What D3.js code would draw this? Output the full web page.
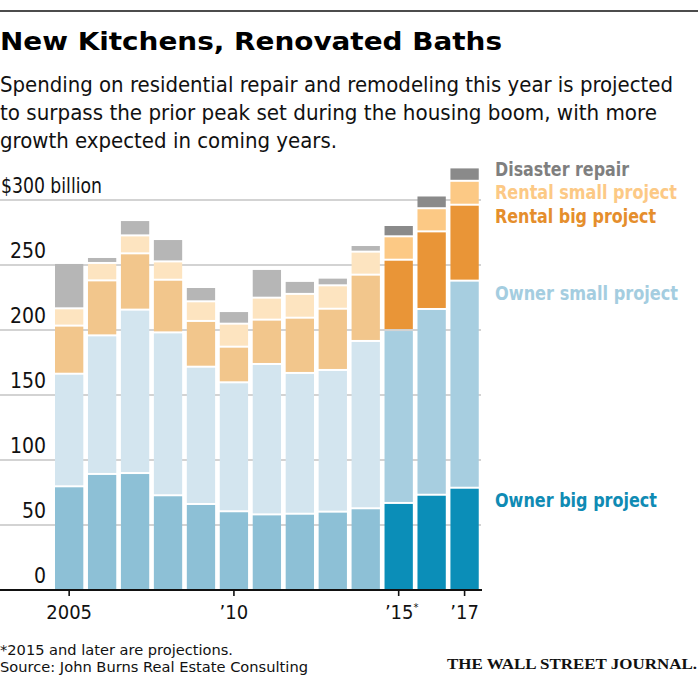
<!DOCTYPE html>
<html>
<head>
<meta charset="utf-8">
<script src="https://cdn.jsdelivr.net/npm/d3@7"></script>
<style>
  html, body { margin: 0; padding: 0; background: #fff; }
  svg { display: block; }
</style>
</head>
<body>
<svg id="chart" width="700" height="682"></svg>
<script>
// ---------------- DATA ----------------
const years = [2005, 2006, 2007, 2008, 2009, 2010, 2011, 2012, 2013, 2014, 2015, 2016, 2017];
const ownerBig    = [79.0, 88.5, 89.2, 72.1, 65.4, 59.8, 57.4, 57.9, 59.5, 62.1, 66.2, 72.5, 77.9];
const ownerSmall  = [86.6, 106.6, 125.7, 125.3, 105.6, 99.2, 115.7, 108.3, 109.0, 128.7, 133.0, 142.9, 159.3];
const rentalBig   = [37.0, 42.3, 43.3, 40.5, 35.2, 27.4, 34.1, 42.5, 47.1, 51.0, 54.1, 59.7, 58.4];
const rentalSmall = [13.3, 13.4, 13.8, 14.1, 15.1, 17.7, 16.9, 18.3, 18.0, 17.7, 18.0, 17.8, 18.4];
const disaster    = [34.9, 4.6, 11.8, 17.2, 11.0, 9.7, 22.1, 10.0, 5.9, 5.1, 8.7, 9.8, 10.3];
const seriesKeys  = ["ownerBig", "ownerSmall", "rentalBig", "rentalSmall", "disaster"];
const seriesNames = ["Owner big project", "Owner small project", "Rental big project", "Rental small project", "Disaster repair"];
const yTicks = [0, 50, 100, 150, 200, 250, 300];
const xTickYears = [2005, 2010, 2015, 2017];
const xTickLabels = ["2005", "\u201910", "\u201915", "\u201917"];
const projectionStart = 2015;

// ---------------- STYLE ----------------
const colorsPast = {ownerBig: "#8dc0d6", ownerSmall: "#d3e5ef", rentalBig: "#f2c68c", rentalSmall: "#fde4c0", disaster: "#b6b6b6"};
const colorsProj = {ownerBig: "#0b8eb8", ownerSmall: "#a7cee0", rentalBig: "#e99537", rentalSmall: "#fcc985", disaster: "#8a8a8a"};
const legendColors = {ownerBig: "#0f8bb4", ownerSmall: "#a4cde0", rentalBig: "#e58e2c", rentalSmall: "#fcc985", disaster: "#7f7f7f"};
const SANS = "'Liberation Sans Narrow', 'DejaVu Sans Condensed', 'Roboto Condensed', 'Liberation Sans', 'Noto Sans', sans-serif";
const SERIF = "'Liberation Serif', 'DejaVu Serif', serif";

const table = years.map((yr, i) => ({
  year: yr,
  ownerBig: ownerBig[i], ownerSmall: ownerSmall[i], rentalBig: rentalBig[i],
  rentalSmall: rentalSmall[i], disaster: disaster[i]
}));

const svg = d3.select("#chart");

function fit(sel, w) {
  const n = sel.node();
  const len = n.getComputedTextLength();
  if (Math.abs(len - w) > 0.5) sel.attr("textLength", w).attr("lengthAdjust", "spacingAndGlyphs");
  return sel;
}

// ---------------- HEADER ----------------
svg.append("line").attr("x1", 0).attr("x2", 698).attr("y1", 11).attr("y2", 11)
  .attr("stroke", "#111").attr("stroke-width", 1.6);

fit(svg.append("text").attr("x", 0).attr("y", 50)
  .attr("font-family", SANS).attr("font-weight", "bold").attr("font-size", 25.5).attr("fill", "#000")
  .text("New Kitchens, Renovated Baths"), 502);

const subLines = [
  ["Spending on residential repair and remodeling this year is projected", 92, 673],
  ["to surpass the prior peak set during the housing boom, with more", 120, 657],
  ["growth expected in coming years.", 148, 337]
];
subLines.forEach(([t, y, w]) => {
  fit(svg.append("text").attr("x", 0).attr("y", y)
    .attr("font-family", SANS).attr("font-size", 20.5).attr("fill", "#111").text(t), w);
});

// ---------------- SCALES ----------------
const x = d3.scaleBand().domain(years).range([52.7, 481.05]).paddingInner(0.141).paddingOuter(0.07);
const y = d3.scaleLinear().domain([0, 300]).range([590, 200]);

// gridlines
svg.append("g").selectAll("line").data(yTicks.filter(d => d > 0)).join("line")
  .attr("x1", 0).attr("x2", 481).attr("y1", d => y(d)).attr("y2", d => y(d))
  .attr("stroke", "#c4c4c4").attr("stroke-width", 1.4);

// y tick labels
const yl = svg.append("g").attr("font-family", SANS).attr("font-size", 21).attr("fill", "#111");
yTicks.forEach(t => {
  if (t === 300) {
    fit(yl.append("text").attr("x", 1).attr("y", y(t) - 7).text("$300 billion"), 101);
  } else {
    yl.append("text").attr("x", 46).attr("y", y(t) - 7).attr("text-anchor", "end").text(String(t));
  }
});

// ---------------- BARS ----------------
const stack = d3.stack().keys(seriesKeys);
const stacked = stack(table);

svg.append("g").selectAll("g").data(stacked).join("g")
  .each(function(layer, li) {
    d3.select(this).selectAll("rect").data(layer).join("rect")
      .attr("x", d => x(d.data.year))
      .attr("width", x.bandwidth())
      .attr("y", d => y(d[1]))
      .attr("height", d => Math.max(0, y(d[0]) - y(d[1]) - (li > 0 ? 2 : 0)))
      .attr("fill", d => (d.data.year >= projectionStart ? colorsProj : colorsPast)[layer.key]);
  });

// axis baseline
svg.append("line").attr("x1", 0).attr("x2", 482).attr("y1", 590).attr("y2", 590)
  .attr("stroke", "#111").attr("stroke-width", 2);

// x ticks
const xa = svg.append("g");
xTickYears.forEach((yr, i) => {
  const cx = x(yr) + x.bandwidth() / 2;
  xa.append("line").attr("x1", cx).attr("x2", cx).attr("y1", 590).attr("y2", 596)
    .attr("stroke", "#111").attr("stroke-width", 1.6);
  const t = xa.append("text").attr("x", yr === projectionStart ? cx + 3 : cx).attr("y", 619)
    .attr("text-anchor", "middle")
    .attr("font-family", SANS).attr("font-size", 20).attr("fill", "#111");
  t.append("tspan").text(xTickLabels[i]);
  if (yr === projectionStart) {
    t.append("tspan").attr("font-size", 11).attr("dy", -8).text("*");
  }
});

// ---------------- LEGEND ----------------
const legendPos = {
  disaster: [176, 134], rentalSmall: [199, 182], rentalBig: [223, 161],
  ownerSmall: [300, 183], ownerBig: [507, 162]
};
seriesKeys.forEach((k, i) => {
  const [ly, lw] = legendPos[k];
  fit(svg.append("text").attr("x", 495).attr("y", ly)
    .attr("font-family", SANS).attr("font-weight", "bold").attr("font-size", 19.5)
    .attr("fill", legendColors[k]).text(seriesNames[i]), lw);
});

// ---------------- FOOTER ----------------
fit(svg.append("text").attr("x", 0).attr("y", 655)
  .attr("font-family", SANS).attr("font-size", 14.5).attr("fill", "#111")
  .text("*2015 and later are projections."), 233);
fit(svg.append("text").attr("x", 0).attr("y", 672)
  .attr("font-family", SANS).attr("font-size", 14.5).attr("fill", "#111")
  .text("Source: John Burns Real Estate Consulting"), 308);
fit(svg.append("text").attr("x", 697).attr("y", 669).attr("text-anchor", "end")
  .attr("font-family", SERIF).attr("font-weight", "bold").attr("font-size", 15.5).attr("fill", "#111")
  .text("THE WALL STREET JOURNAL."), 250);
</script>
</body>
</html>
